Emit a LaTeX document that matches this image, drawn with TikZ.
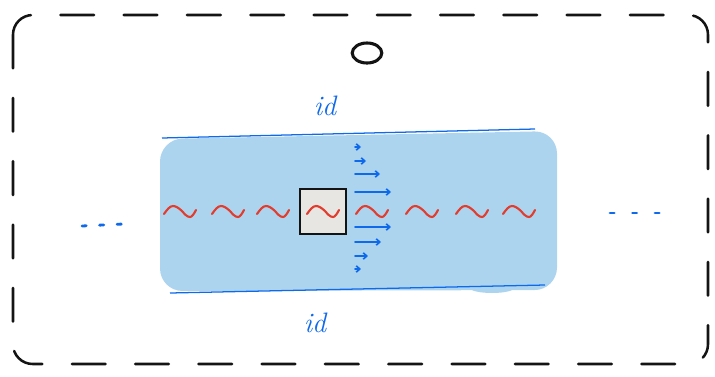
\documentclass[tikz,border=0pt]{standalone}
\usepackage[dvipsnames]{xcolor}
\definecolor{SketchBlue}{RGB}{15,105,235}
\definecolor{BandBlue}  {RGB}{173,212,238}
\definecolor{WaveRed}   {RGB}{225,60,45}
\definecolor{BoxGray}   {RGB}{232,230,227}
\definecolor{InkBlack}  {RGB}{20,20,20}
\usepackage{tikz}
\usetikzlibrary{
  arrows.meta,
  positioning,
  shapes.geometric
}

\begin{document}
\begin{tikzpicture}[
  x=0.025cm, y=-0.025cm,
  border/.style={
    draw=InkBlack, line width=1.8pt,
    rounded corners=14pt, line cap=round,
    dash pattern=on 24pt off 21pt},
  band/.style={
    fill=BandBlue, rounded corners=16pt},
  rim/.style={
    draw=SketchBlue, line width=0.9pt},
  idtext/.style={
    text=SketchBlue, inner sep=0pt,
    font=\fontsize{20}{22}\selectfont\itshape},
  cell/.style={
    draw=InkBlack, fill=BoxGray,
    line width=1.5pt, inner sep=0pt,
    minimum width=1.15cm, minimum height=1.12cm},
  wave/.style={
    draw=WaveRed, line width=1.5pt, line cap=round},
  flux/.style={
    -{Straight Barb[length=2.5pt, width=4.5pt]},
    draw=SketchBlue, line width=1.2pt, line cap=round},
  ellip/.style={
    draw=SketchBlue, line width=2pt, line cap=round}
]
\useasboundingbox (0,0) rectangle (715,376);

\draw[border] (13,15) rectangle (708,364);

\node[draw=InkBlack, ellipse, line width=2.2pt, inner sep=0pt,
  minimum width=0.74cm, minimum height=0.5cm] (zero) at (367,53) {};

\fill[band] (160,139) -- (557,131) -- (557,290) -- (160,291) -- cycle;
\fill[BandBlue] (492,288) ellipse (22 and 5);

\coordinate (topL) at (162,138);
\coordinate (topR) at (535,129);
\coordinate (botL) at (170,293);
\coordinate (botR) at (545,285);
\draw[rim] (topL) -- (topR);
\draw[rim] (botL) -- (botR);

\node[idtext] (idtop) at (325,106) {id};
\node[idtext] (idbot) at (315,323) {id};

\node[cell] (gate) at (323,211.5) {};

\foreach \cx in {180,228,273,323,372,422,472,519}
  \draw[wave] (\cx-16,214) sin (\cx-7,206) cos (\cx+2,211)
    sin (\cx+10,217) cos (\cx+16,210);

\foreach \y/\len [count=\i] in
  {147/6, 161/11, 174/25, 192/36, 227/36, 242/26, 256/13, 269/6} {
  \coordinate (s\i) at (355,\y);
  \coordinate (t\i) at (355+\len,\y);
  \draw[flux] (s\i) -- (t\i);
}

\coordinate (dl1) at (82,226);
\coordinate (dl2) at (123,224);
\coordinate (dr1) at (610,213);
\coordinate (dr2) at (662,213);
\draw[ellip, dash pattern=on 3pt off 9.5pt] (dl1) -- (dl2);
\draw[ellip, dash pattern=on 3pt off 13pt] (dr1) -- (dr2);
\end{tikzpicture}
\end{document}
